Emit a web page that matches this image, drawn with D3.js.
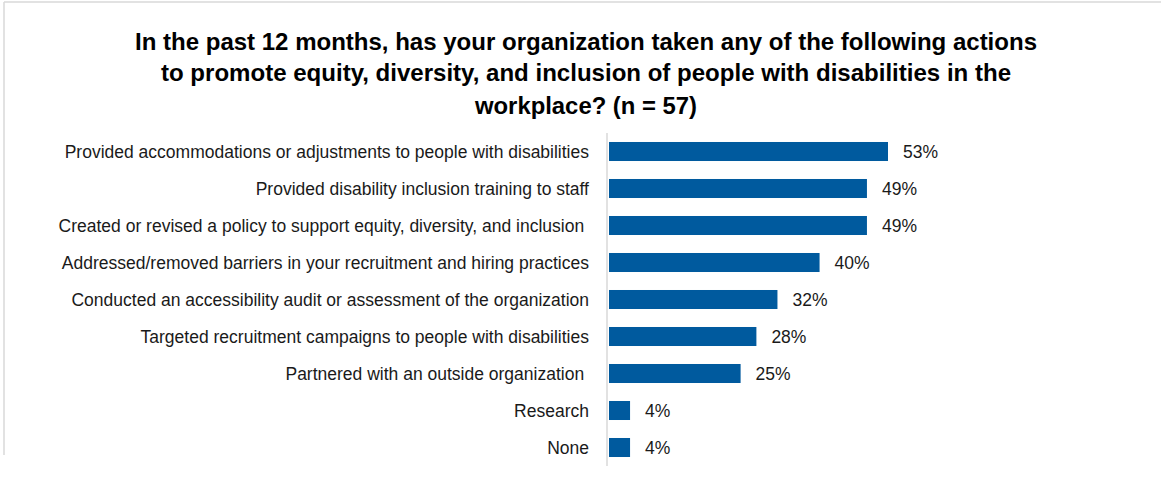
<!DOCTYPE html>
<html>
<head>
<meta charset="utf-8">
<script src="https://cdn.jsdelivr.net/npm/d3@7"></script>
<style>
  html, body { margin: 0; padding: 0; background: #ffffff; }
  svg { display: block; }
  text { font-family: "Liberation Sans", Arial, sans-serif; }
</style>
</head>
<body>
<svg id="chart" width="1161" height="488"></svg>
<script>
// Survey actions (trailing spaces kept as they appear in the source labels)
const categories = [
  "Provided accommodations or adjustments to people with disabilities",
  "Provided disability inclusion training to staff",
  "Created or revised a policy to support equity, diversity, and inclusion ",
  "Addressed/removed barriers in your recruitment and hiring practices",
  "Conducted an accessibility audit or assessment of the organization",
  "Targeted recruitment campaigns to people with disabilities",
  "Partnered with an outside organization ",
  "Research",
  "None"
];
const percents = [53, 49, 49, 40, 32, 28, 25, 4, 4];

const titleLines = [
  "In the past 12 months, has your organization taken any of the following actions",
  "to promote equity, diversity, and inclusion of people with disabilities in the",
  "workplace? (n = 57)"
];

const W = 1161, H = 488;
const svg = d3.select("#chart");

// Light frame along the top and left
svg.append("line")
  .attr("x1", 4).attr("x2", W).attr("y1", 2).attr("y2", 2)
  .attr("stroke", "#d9d9d9").attr("stroke-width", 1.5);
svg.append("line")
  .attr("x1", 4).attr("x2", 4).attr("y1", 2).attr("y2", 455)
  .attr("stroke", "#d9d9d9").attr("stroke-width", 1.5);

// Title
const titleCenter = 586;
const titleWidths = [902, 850, 222];
const titleBase = [50, 81, 114];
const title = svg.append("g");
titleLines.forEach((t, i) => {
  title.append("text")
    .attr("x", titleCenter)
    .attr("y", titleBase[i])
    .attr("text-anchor", "middle")
    .attr("font-size", 24)
    .attr("font-weight", "bold")
    .attr("fill", "#000")
    .attr("textLength", titleWidths[i])
    .attr("lengthAdjust", "spacingAndGlyphs")
    .text(t);
});

// Scales
const x0 = 609;
const x = d3.scaleLinear().domain([0, 53]).range([x0, 888]);
const y = d3.scaleBand()
  .domain(categories)
  .range([133, 466])
  .paddingInner(0.486)
  .paddingOuter(0.243);

// Category axis line
svg.append("line")
  .attr("x1", x0 - 2).attr("x2", x0 - 2)
  .attr("y1", 133).attr("y2", 466)
  .attr("stroke", "#d9d9d9").attr("stroke-width", 1.5);

// Bars
svg.append("g").selectAll("rect")
  .data(categories)
  .join("rect")
  .attr("x", x(0))
  .attr("y", d => y(d))
  .attr("width", (d, i) => x(percents[i]) - x(0))
  .attr("height", y.bandwidth())
  .attr("fill", "#005a9e");

// Category labels, right-aligned against the axis
const labels = svg.append("g");
categories.forEach((c, i) => {
  labels.append("text")
    .attr("x", 589)
    .attr("y", y(c) + y.bandwidth() / 2)
    .attr("text-anchor", "end")
    .attr("dy", "0.35em")
    .attr("font-size", 17.5)
    .attr("fill", "#1a1a1a")
    .style("white-space", "pre")
    .text(c);
});

// Value labels
const values = svg.append("g");
categories.forEach((c, i) => {
  values.append("text")
    .attr("x", x(percents[i]) + 15)
    .attr("y", y(c) + y.bandwidth() / 2)
    .attr("dy", "0.35em")
    .attr("font-size", 17.5)
    .attr("fill", "#1a1a1a")
    .text(percents[i] + "%");
});
</script>
</body>
</html>
